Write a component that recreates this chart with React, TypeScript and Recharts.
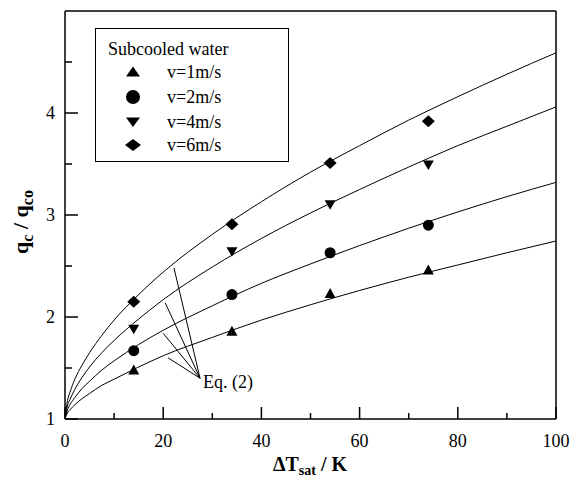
import { useEffect } from 'react';
import { ComposedChart, Line, Scatter, XAxis, YAxis, ReferenceLine, ReferenceDot, Legend, Label } from 'recharts';

const FONT = '"Times New Roman", Times, "Liberation Serif", "DejaVu Serif", serif';

// Eq. (2) curves
const CURVE_X = [0, 0.5, 1, 2, 3.5, 5, 7.5, 10, 15, 20, 30, 40, 50, 60, 70, 80, 90, 100];
const CURVE_V1 = [1, 1.06, 1.09, 1.14, 1.2, 1.25, 1.33, 1.39, 1.51, 1.62, 1.8, 1.97, 2.12, 2.26, 2.39, 2.51, 2.63, 2.745];
const CURVE_V2 = [1, 1.09, 1.14, 1.21, 1.3, 1.37, 1.48, 1.57, 1.73, 1.87, 2.11, 2.33, 2.52, 2.7, 2.87, 3.03, 3.18, 3.32];
const CURVE_V4 = [1, 1.13, 1.19, 1.29, 1.41, 1.51, 1.65, 1.77, 1.98, 2.17, 2.49, 2.77, 3.02, 3.25, 3.47, 3.68, 3.87, 4.06];
const CURVE_V6 = [1, 1.18, 1.26, 1.39, 1.53, 1.65, 1.82, 1.97, 2.22, 2.44, 2.81, 3.13, 3.42, 3.68, 3.93, 4.16, 4.38, 4.59];

// measured points
const POINT_X = [14, 34, 54, 74];
const POINT_V1 = [1.48, 1.86, 2.23, 2.46];
const POINT_V2 = [1.67, 2.22, 2.63, 2.9];
const POINT_V4 = [1.88, 2.64, 3.1, 3.49];
const POINT_V6 = [2.15, 2.91, 3.51, 3.92];

const LABELS = ['v=1m/s', 'v=2m/s', 'v=4m/s', 'v=6m/s'];
const MARKERS = ['up', 'circle', 'down', 'diamond'];

const X_TICKS = [0, 10, 20, 30, 40, 50, 60, 70, 80, 90, 100];
const Y_TICKS = [1, 1.5, 2, 2.5, 3, 3.5, 4, 4.5];

// "Eq. (2)" leader lines: common point and the ends on each curve
const EQ_POINT = { x: 27.5, y: 1.4 };
const EQ_END_X = [22.2, 20.4, 20.0, 21.0];
const EQ_END_Y = [2.48, 2.14, 1.84, 1.6];

const CURVES = [CURVE_V1, CURVE_V2, CURVE_V4, CURVE_V6];
const POINTS = [POINT_V1, POINT_V2, POINT_V4, POINT_V6];

const series = LABELS.map((name, i) => ({
  name,
  marker: MARKERS[i],
  curve: CURVE_X.map((x, j) => ({ x, y: CURVES[i][j] })),
  points: POINT_X.map((x, j) => ({ x, y: POINTS[i][j] })),
}));

function Marker({ kind, cx, cy, w = 11 }: { kind: string; cx: number; cy: number; w?: number }) {
  const h = w / 2;
  if (kind === 'circle') return <circle cx={cx} cy={cy} r={h} fill="#000" />;
  if (kind === 'up') return <polygon points={`${cx - h},${cy + 4.5} ${cx + h},${cy + 4.5} ${cx},${cy - 5.5}`} fill="#000" />;
  if (kind === 'down') return <polygon points={`${cx - h},${cy - 4.5} ${cx + h},${cy - 4.5} ${cx},${cy + 5}`} fill="#000" />;
  return <polygon points={`${cx},${cy - 6} ${cx + h + 1},${cy} ${cx},${cy + 6} ${cx - h - 1},${cy}`} fill="#000" />;
}

const XTick = (props: any) => {
  const { x, y, payload } = props;
  const v = payload.value;
  const major = v % 20 === 0;
  return (
    <g>
      <line x1={x} y1={y} x2={x} y2={y - (major ? 12 : 6)} stroke="#000" strokeWidth={1.5} />
      {major && (
        <text x={x} y={y + 28} textAnchor="middle" style={{ fontFamily: FONT }} fontSize={18} fill="#000">
          {v}
        </text>
      )}
    </g>
  );
};

const YTick = (props: any) => {
  const { x, y, payload } = props;
  const v = payload.value;
  const major = Number.isInteger(v);
  return (
    <g>
      <line x1={x} y1={y} x2={x + (major ? 13 : 7)} y2={y} stroke="#000" strokeWidth={1.5} />
      {major && (
        <text x={x - 10} y={y + 6} textAnchor="end" style={{ fontFamily: FONT }} fontSize={18} fill="#000">
          {v}
        </text>
      )}
    </g>
  );
};

const YTitle = () => (
  <text x={28} y={222} transform="rotate(-90, 28, 222)" textAnchor="middle" style={{ fontFamily: FONT }} fontSize={22} fontWeight="bold" fill="#000">
    <tspan>q</tspan>
    <tspan dy={5} fontSize={16}>c</tspan>
    <tspan dy={-5}>{' / q'}</tspan>
    <tspan dy={5} fontSize={16}>co</tspan>
  </text>
);

const XTitle = () => (
  <text x={310} y={471} textAnchor="middle" style={{ fontFamily: FONT }} fontSize={20} fontWeight="bold" fill="#000">
    <tspan>ΔT</tspan>
    <tspan dy={4} fontSize={14}>sat</tspan>
    <tspan dy={-4}>{' / K'}</tspan>
  </text>
);

const EqLabel = (props: any) => {
  const { viewBox } = props;
  return (
    <text x={viewBox.x + 3} y={viewBox.y + 10} style={{ fontFamily: FONT }} fontSize={18} fill="#000">
      Eq. (2)
    </text>
  );
};

const LEGEND_ROWS = [44, 69, 94, 117];

const LegendBox = () => (
  <div
    style={{
      position: 'relative',
      width: 194,
      height: 134,
      border: '1.5px solid #000',
      boxSizing: 'border-box',
      background: '#fff',
      fontFamily: FONT,
      fontSize: 18,
      color: '#000',
    }}
  >
    <div style={{ position: 'absolute', left: 12, top: 9, lineHeight: '22px', whiteSpace: 'nowrap' }}>Subcooled water</div>
    {series.map((s, i) => (
      <div key={s.name}>
        <svg width={20} height={20} style={{ position: 'absolute', left: 27, top: LEGEND_ROWS[i] - 11 }}>
          <Marker kind={s.marker} cx={10} cy={10} w={14} />
        </svg>
        <div style={{ position: 'absolute', left: 71, top: LEGEND_ROWS[i] - 12, lineHeight: '22px', whiteSpace: 'nowrap' }}>{s.name}</div>
      </div>
    ))}
  </div>
);

export default function App() {
  useEffect(() => {
    document.body.style.margin = '0';
  }, []);

  return (
    <ComposedChart width={571} height={480} margin={{ top: 11, right: 15, bottom: 31, left: 55 }} style={{ fontFamily: FONT }}>
      <XAxis
        type="number"
        dataKey="x"
        domain={[0, 100]}
        ticks={X_TICKS}
        interval={0}
        allowDataOverflow
        tickSize={0}
        tickMargin={0}
        tickLine={false}
        tick={<XTick />}
        axisLine={{ stroke: '#000', strokeWidth: 1.5 }}
        height={30}
      >
        <Label content={<XTitle />} />
      </XAxis>
      <YAxis
        type="number"
        dataKey="y"
        domain={[1, 5]}
        ticks={Y_TICKS}
        interval={0}
        allowDataOverflow
        tickSize={0}
        tickMargin={0}
        tickLine={false}
        tick={<YTick />}
        axisLine={{ stroke: '#000', strokeWidth: 1.5 }}
        width={10}
      >
        <Label content={<YTitle />} />
      </YAxis>
      <ReferenceLine y={5} stroke="#000" strokeWidth={1.5} />
      <ReferenceLine x={100} stroke="#000" strokeWidth={1.5} />
      {series.map((s) => (
        <Line
          key={'c' + s.name}
          data={s.curve}
          dataKey="y"
          type="monotone"
          dot={false}
          stroke="#000"
          strokeWidth={1}
          isAnimationActive={false}
          legendType="none"
        />
      ))}
      {series.map((s) => (
        <Scatter
          key={'p' + s.name}
          data={s.points}
          dataKey="y"
          isAnimationActive={false}
          shape={(p: any) => <Marker kind={s.marker} cx={p.cx} cy={p.cy} />}
        />
      ))}
      {EQ_END_X.map((x, i) => (
        <ReferenceLine
          key={'eq' + i}
          segment={[EQ_POINT, { x, y: EQ_END_Y[i] }]}
          stroke="#000"
          strokeWidth={1}
        />
      ))}
      <ReferenceDot x={EQ_POINT.x} y={EQ_POINT.y} r={0} stroke="none" fill="none" label={<EqLabel />} />
      <Legend
        layout="horizontal"
        verticalAlign="middle"
        align="center"
        width={194}
        height={134}
        wrapperStyle={{ left: 95, top: 28, width: 194, height: 134 }}
        content={<LegendBox />}
      />
    </ComposedChart>
  );
}
